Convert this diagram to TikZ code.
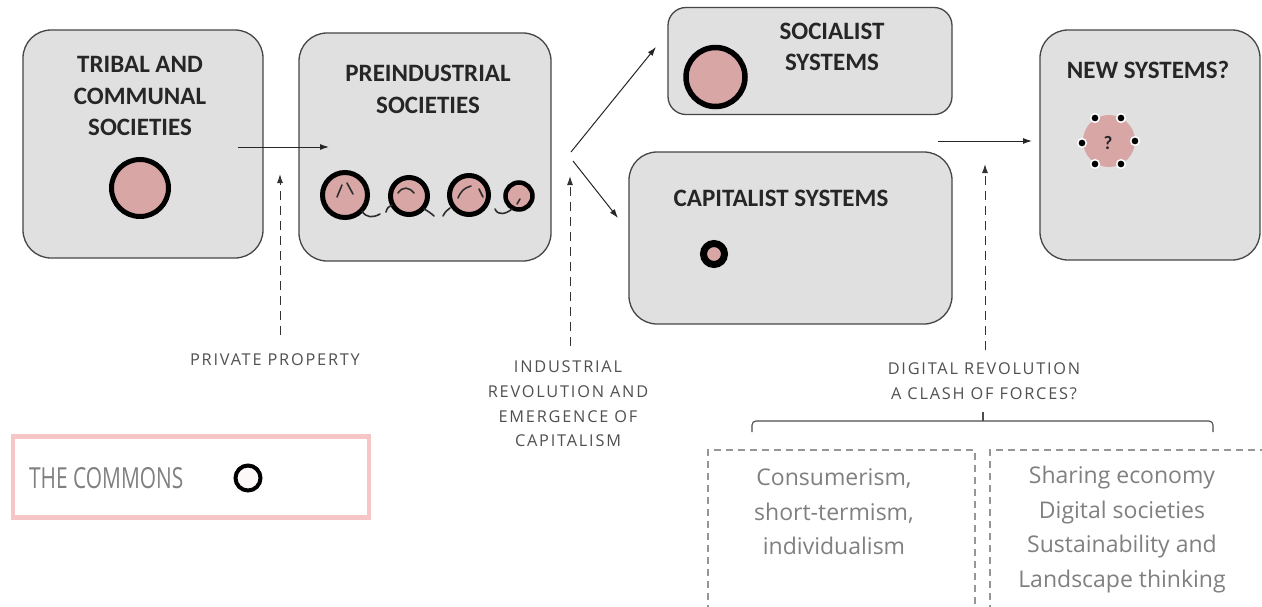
\documentclass[tikz,border=0pt]{standalone}
\usepackage{fontspec}
\setmainfont{Carlito}
\newfontfamily\lab[LetterSpace=11]{Open Sans}
\newfontfamily\dlab{Open Sans}
\newfontfamily\cond[FakeStretch=0.72]{Open Sans}
\usetikzlibrary{arrows.meta}
\definecolor{boxfill}{RGB}{224,224,224}
\definecolor{boxline}{RGB}{70,70,70}
\definecolor{pinkf}{RGB}{217,166,166}
\definecolor{labgray}{RGB}{80,80,80}
\definecolor{dashgray}{RGB}{150,150,150}
\definecolor{commonpink}{RGB}{246,198,198}
\definecolor{markc}{RGB}{45,45,45}
\begin{document}
\begin{tikzpicture}[x=1pt,y=-1pt,
  sbox/.style={draw=boxline, line width=1.3pt, fill=boxfill, rounded corners=28pt, inner sep=0pt},
  ttl/.style={font=\bfseries\fontsize{25}{31.5}\selectfont, text=black!85, align=center, inner sep=0pt},
  lbl/.style={font=\lab\fontsize{16.3}{24.6}\selectfont, text=labgray, align=center, inner sep=0pt},
  dtxt/.style={font=\dlab\fontsize{23}{34.5}\selectfont, text=black!50, align=center, inner sep=0pt},
  dbox/.style={draw=dashgray, line width=1.2pt, dash pattern=on 7pt off 5pt},
  arr/.style={draw=black!85, line width=1pt, -{Latex[length=9pt,width=6pt]}},
  darr/.style={draw=black!80, line width=1pt, dash pattern=on 9pt off 6pt, -{Latex[length=9pt,width=6pt]}},
  comm/.style={draw=black, fill=pinkf},
  inmark/.style={draw=markc, line width=1.6pt, line cap=round}
]
\useasboundingbox (0,0) rectangle (1262,606);
\fill[white] (0,0) rectangle (1262,606);

% main boxes
\node[sbox, minimum width=240pt, minimum height=228pt] (tribal) at (143,144) {};
\node[sbox, minimum width=252pt, minimum height=228pt] (preind) at (425,147) {};
\node[sbox, minimum width=284pt, minimum height=107pt, rounded corners=18pt] (social) at (810,61) {};
\node[sbox, minimum width=323pt, minimum height=172pt] (capit) at (790.5,238) {};
\node[sbox, minimum width=220pt, minimum height=230pt] (newsys) at (1150,145) {};

% titles
\node[ttl] (t1) at (140,96) {TRIBAL AND\\COMMUNAL\\SOCIETIES};
\node[ttl] (t2) at (428,89.5) {PREINDUSTRIAL\\SOCIETIES};
\node[ttl] (t3) at (832,47) {SOCIALIST\\SYSTEMS};
\node[ttl] (t4) at (781,198) {CAPITALIST SYSTEMS};
\node[ttl] (t5) at (1148,70) {NEW SYSTEMS?};

% commons symbols
\draw[comm, line width=5pt] (140,188) circle (28.5);
\draw[comm, line width=5.5pt] (715.5,77) circle (29.5);
\draw[comm, line width=7pt] (714,254) circle (10.5);

% preindustrial broken commons
\draw[comm, line width=5pt] (345,195) circle (22.5);
\draw[comm, line width=5pt] (409,196) circle (18.5);
\draw[comm, line width=5pt] (469,195) circle (19.5);
\draw[comm, line width=4.5pt] (519,196) circle (13.5);
\draw[inmark] (337,197) -- (342,185);
\draw[inmark] (347,183) -- (353,194);
\draw[inmark] (398,193) .. controls (403,186) and (409,187) .. (414,193);
\draw[inmark] (458,198) .. controls (461,191) and (464,188) .. (471,186);
\draw[inmark] (479,189) -- (483,197);
\draw[inmark] (520,199) -- (517,204);
\draw[inmark] (362,211) .. controls (366,218) and (373,218) .. (380,214);
\draw[inmark] (386,212) .. controls (387,208) and (389,206) .. (392,205);
\draw[inmark] (424,209) .. controls (428,211) and (432,214) .. (434,216);
\draw[inmark] (443,216) .. controls (445,212) and (447,210) .. (450,208);
\draw[inmark] (495,209) .. controls (498,216) and (506,214) .. (512,209);

% new system symbol
\fill[pinkf] (1109,141) circle (26);
\node[font=\bfseries\fontsize{19}{19}\selectfont, text=black!85] (qm) at (1108,143) {?};
\foreach \px/\py in {1095/118,1121/118,1082/143,1135/141,1095/164,1121/164}
  \draw[white, line width=1.5pt, fill=black] (\px,\py) circle (4.3);

% transitions
\coordinate (a1s) at (238,147);
\coordinate (a1e) at (329,147);
\draw[arr] (a1s) -- (a1e);
\coordinate (a2s) at (571,152);
\coordinate (a2e) at (656,47);
\draw[arr] (a2s) -- (a2e);
\coordinate (a3s) at (573,161);
\coordinate (a3e) at (618,218);
\draw[arr] (a3s) -- (a3e);
\coordinate (a4s) at (938,141);
\coordinate (a4e) at (1032,141);
\draw[arr] (a4s) -- (a4e);

% labels
\node[lbl] (pp) at (275,360) {PRIVATE PROPERTY};
\node[lbl] (ir) at (568,404) {INDUSTRIAL\\REVOLUTION AND\\EMERGENCE OF\\CAPITALISM};
\node[lbl] (dr) at (984,381) {DIGITAL REVOLUTION\\A CLASH OF FORCES?};

\coordinate (d1s) at (280,335);
\coordinate (d1e) at (280,174);
\draw[darr] (d1s) -- (d1e);
\coordinate (d2s) at (570,346);
\coordinate (d2e) at (570,176);
\draw[darr] (d2s) -- (d2e);
\coordinate (d3s) at (985,350);
\coordinate (d3e) at (985,164);
\draw[darr] (d3s) -- (d3e);

% brace
\coordinate (bl) at (752,432);
\coordinate (br) at (1213,432);
\coordinate (bm) at (983,421);
\draw[black!70, line width=1.1pt, rounded corners=4pt] (bl) -- (752,421) -- (br |- bm) -- (br);
\draw[black!70, line width=1.1pt] (bm) -- (983,412);

% dashed boxes
\draw[dbox] (708,612) -- (708,450) -- (975,450) -- (975,612);
\draw[dbox] (990,612) -- (990,450) -- (1262,450);
\node[dtxt] (cons) at (834,512) {Consumerism,\\short-termism,\\individualism};
\node[dtxt] (shar) at (1122,529.5) {Sharing economy\\Digital societies\\Sustainability and\\Landscape thinking};

% legend
\node[draw=commonpink, line width=4.5pt, minimum width=356pt, minimum height=81pt, inner sep=0pt] (legend) at (191,477) {};
\node[font=\cond\fontsize{29}{29}\selectfont, text=black!50, anchor=west, inner sep=0pt] (commons) at (29,478) {THE COMMONS};
\draw[draw=black, fill=pinkf!8, line width=4pt] (248,478) circle (12.5);
\end{tikzpicture}
\end{document}
